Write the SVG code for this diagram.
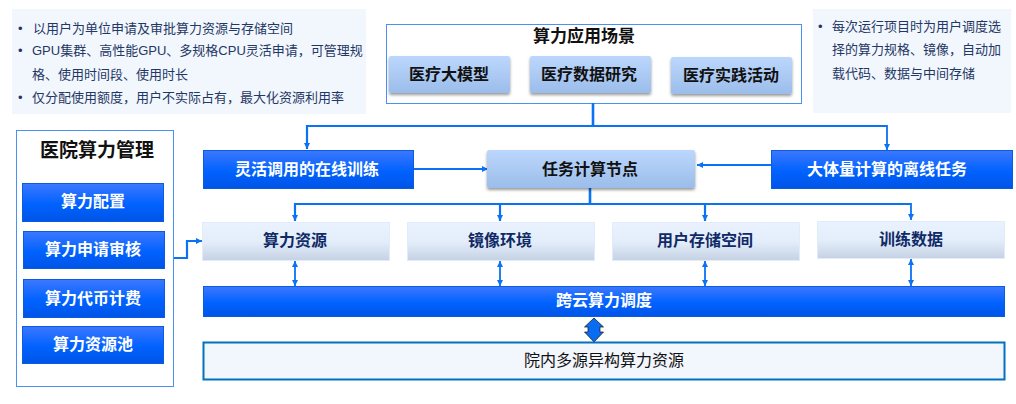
<svg xmlns="http://www.w3.org/2000/svg" width="1016" height="404" viewBox="0 0 1016 404">
<style>
text{font-family:"Liberation Sans","Noto Sans CJK SC",sans-serif;text-anchor:middle}
.note{fill:#f2f6fd}
.nt{font-size:13px;fill:#1f3864;text-anchor:start}
.frame{fill:#fff;stroke:#4a90f5;stroke-width:1}
.blue{fill:url(#gb);stroke:#0a5ce0;stroke-width:1}
.bt{font-size:16px;font-weight:700;fill:#fff}
.lb{fill:url(#gl);filter:url(#sh)}
.lt{font-size:16px;font-weight:700;fill:#111}
.pale{fill:url(#gp);stroke:#e1ecfb;stroke-width:1}
.pt{font-size:16px;font-weight:700;fill:#0f2a66}
.c{fill:none;stroke:#0a72f5;stroke-width:2.200}
.c1{fill:none;stroke:#0a72f5;stroke-width:1.800}
.st{fill:none;stroke:#0a72f5;stroke-width:2.600}
</style>
<defs>
<linearGradient id="gb" x1="0" y1="0" x2="0" y2="1"><stop offset="0" stop-color="#3d78ff"/><stop offset=".55" stop-color="#0062ff"/><stop offset="1" stop-color="#0054e6"/></linearGradient>
<linearGradient id="gl" x1="0" y1="0" x2="0" y2="1"><stop offset="0" stop-color="#bcd7fd"/><stop offset="1" stop-color="#9bbdea"/></linearGradient>
<linearGradient id="gp" x1="0" y1="0" x2="0" y2="1"><stop offset="0" stop-color="#e9f2fe"/><stop offset=".5" stop-color="#e4eefb"/><stop offset="1" stop-color="#c5d2e4"/></linearGradient>
<filter id="sh" x="-10%" y="-20%" width="120%" height="150%"><feDropShadow dx="0" dy="2" stdDeviation="1.500" flood-color="#000" flood-opacity=".4"/></filter>
<marker id="a" markerUnits="userSpaceOnUse" markerWidth="7" markerHeight="7" refX="6" refY="3" orient="auto-start-reverse"><path d="M0 0L6 3L0 6Z" fill="#0a72f5"/></marker>
</defs>

<g id="note-left">
<rect class="note" x="12" y="9" width="354" height="105"/>
<text class="nt" x="18" y="33">•</text><text class="nt" x="33" y="33">以用户为单位申请及审批算力资源与存储空间</text>
<text class="nt" x="18" y="55">•</text><text class="nt" x="32" y="55">GPU集群、高性能GPU、多规格CPU灵活申请，可管理规</text>
<text class="nt" x="32" y="79">格、使用时间段、使用时长</text>
<text class="nt" x="18" y="102">•</text><text class="nt" x="32" y="102">仅分配使用额度，用户不实际占有，最大化资源利用率</text>
</g>
<g id="note-right">
<rect class="note" x="813" y="9" width="198" height="104"/>
<text class="nt" x="818" y="31">•</text><text class="nt" x="832" y="31">每次运行项目时为用户调度选</text>
<text class="nt" x="832" y="54">择的算力规格、镜像，自动加</text>
<text class="nt" x="832" y="78">载代码、数据与中间存储</text>
</g>

<g id="scenarios">
<rect class="frame" x="386.500" y="24.500" width="415" height="79"/>
<text x="584" y="42" font-size="17" font-weight="700" fill="#111">算力应用场景</text>
</g>
<g id="connectors">
<path class="st" d="M593 103V127"/>
<path class="c" d="M593 126H307V149" marker-end="url(#a)"/>
<path class="c1" d="M593 126H887V150" marker-end="url(#a)"/>
<path class="c" d="M413 169H488" marker-end="url(#a)"/>
<path class="c" d="M771 165H697" marker-end="url(#a)"/>
<path class="st" d="M590 188V204"/>
<path class="c" d="M590 204H295V221" marker-end="url(#a)"/>
<path class="c" d="M500 204V221" marker-end="url(#a)"/>
<path class="c1" d="M590 204H911V220" marker-end="url(#a)"/>
<path class="c" d="M705 204V221" marker-end="url(#a)"/>
<path class="c" d="M174 258H187V241H202" marker-end="url(#a)"/>
<path class="c1" d="M295 261V286" marker-start="url(#a)" marker-end="url(#a)"/>
<path class="c1" d="M500 261V286" marker-start="url(#a)" marker-end="url(#a)"/>
<path class="c1" d="M705 261V286" marker-start="url(#a)" marker-end="url(#a)"/>
<path class="c1" d="M911 259V286" marker-start="url(#a)" marker-end="url(#a)"/>
<path d="M594 318L603.500 327H600V332H603.500L594 342L584.500 332H588V327H584.500Z" fill="#0a6cf0" stroke="#111" stroke-width=".7"/>
</g>

<g id="s1"><rect class="lb" x="389" y="56" width="121" height="37" rx="2"/><text class="lt" x="449" y="80">医疗大模型</text></g>
<g id="s2"><rect class="lb" x="530" y="56" width="121" height="37" rx="2"/><text class="lt" x="589" y="80">医疗数据研究</text></g>
<g id="s3"><rect class="lb" x="671" y="57" width="121" height="37" rx="2"/><text class="lt" x="731" y="81">医疗实践活动</text></g>

<g id="mgmt">
<rect class="frame" x="16.500" y="130.500" width="157" height="256"/>
<text x="97" y="157" font-size="19" font-weight="700" fill="#111">医院算力管理</text>
</g>
<g id="m1"><rect class="blue" x="22.500" y="183.500" width="141" height="38"/><text class="bt" x="93" y="207">算力配置</text></g>
<g id="m2"><rect class="blue" x="23.500" y="231.500" width="141" height="37"/><text class="bt" x="93" y="255">算力申请审核</text></g>
<g id="m3"><rect class="blue" x="23.500" y="279.500" width="141" height="38"/><text class="bt" x="93" y="304">算力代币计费</text></g>
<g id="m4"><rect class="blue" x="22.500" y="326.500" width="141" height="37"/><text class="bt" x="93" y="350">算力资源池</text></g>

<g id="online"><rect class="blue" x="203.500" y="150.500" width="210" height="38"/><text class="bt" x="307" y="175">灵活调用的在线训练</text></g>
<g id="node"><rect class="lb" x="487" y="150" width="208" height="38" rx="2"/><text class="lt" x="590" y="175">任务计算节点</text></g>
<g id="offline"><rect class="blue" x="771.500" y="150.500" width="241" height="38"/><text class="bt" x="887" y="175">大体量计算的离线任务</text></g>

<g id="r1"><rect class="pale" x="202.500" y="222.500" width="187" height="38"/><text class="pt" x="295" y="246">算力资源</text></g>
<g id="r2"><rect class="pale" x="407.500" y="222.500" width="187" height="38"/><text class="pt" x="500" y="246">镜像环境</text></g>
<g id="r3"><rect class="pale" x="612.500" y="222.500" width="187" height="38"/><text class="pt" x="705" y="246">用户存储空间</text></g>
<g id="r4"><rect class="pale" x="817.500" y="221.500" width="187" height="37"/><text class="pt" x="911" y="245">训练数据</text></g>

<g id="sched"><rect class="blue" x="203.500" y="286.500" width="801" height="30"/><text class="bt" x="604" y="306">跨云算力调度</text></g>
<g id="pool"><rect x="203.500" y="342.500" width="801" height="37" fill="#f2f6fd" stroke="#0070c0" stroke-width="2"/><text x="604" y="366" font-size="16" fill="#111">院内多源异构算力资源</text></g>
</svg>
